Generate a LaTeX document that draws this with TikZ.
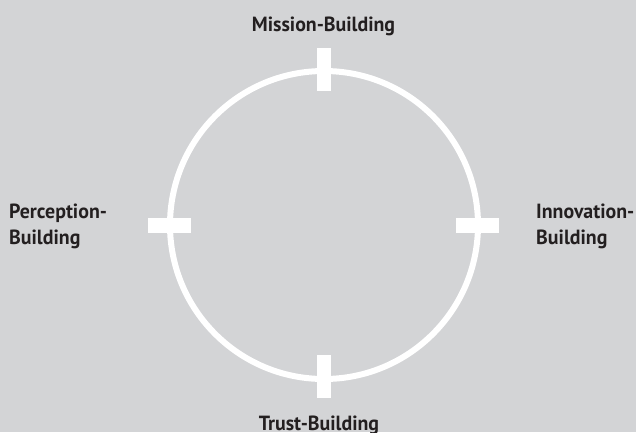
\documentclass[tikz,border=0pt]{standalone}
\usepackage{fontspec}
\setmainfont{PT Sans}[FakeStretch=0.97]
\definecolor{bg}{HTML}{D3D4D6}
\definecolor{ink}{HTML}{231F20}
\begin{document}
\begin{tikzpicture}[x=1pt,y=-1pt,
  lbl/.style={font=\bfseries\fontsize{20.5}{26}\selectfont, text=ink, inner sep=0pt},
  tick/.style={fill=white, draw=none}]
\fill[bg] (0,0) rectangle (636,432);
\useasboundingbox (0,0) rectangle (636,432);
\coordinate (c) at (324,225);
\draw[white, line width=6pt] (c) circle[radius=154];
\fill[tick] (317,48) rectangle (331,91);
\fill[tick] (317,355) rectangle (331,398);
\fill[tick] (148,218) rectangle (191,233);
\fill[tick] (456,218) rectangle (499,233);
\node[lbl, anchor=base] (m) at (323.5,31) {Mission-Building};
\node[lbl, anchor=base] (t) at (319,430) {Trust-Building};
\node[lbl, anchor=base west, align=left] (p) at (9,244.5) {Perception-\\Building};
\node[lbl, anchor=base west, align=left] (i) at (536,244.5) {Innovation-\\Building};
\end{tikzpicture}
\end{document}
